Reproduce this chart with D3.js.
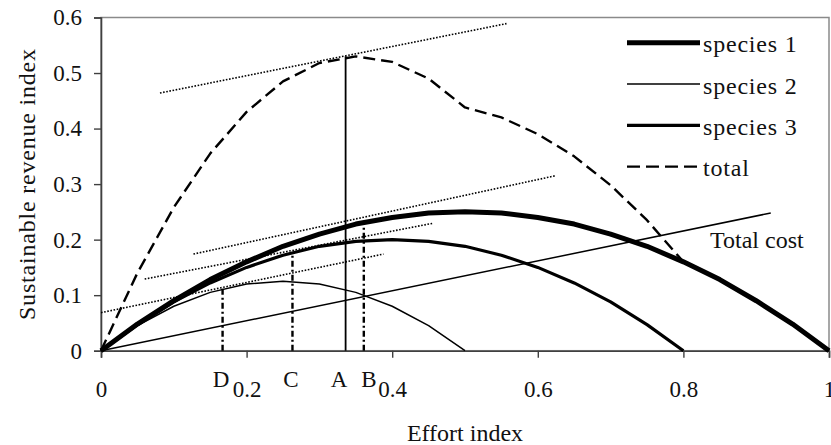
<!DOCTYPE html>
<html>
<head>
<meta charset="utf-8">
<script src="https://cdn.jsdelivr.net/npm/d3@7"></script>
<style>
  body { margin: 0; background: #fff; }
  svg { display: block; }
  svg text { font-family: "Liberation Serif", Tinos, "Times New Roman", Times, "DejaVu Serif", serif; }
</style>
</head>
<body>
<svg></svg>
<script>
// effort levels and sustainable revenue
const effort   = [0, 0.05, 0.1, 0.15, 0.2, 0.25, 0.3, 0.35, 0.4, 0.45, 0.5, 0.55, 0.6, 0.65, 0.7, 0.75, 0.8, 0.85, 0.9, 0.95, 1];
const species1 = [0, 0.048, 0.09, 0.128, 0.16, 0.188, 0.21, 0.228, 0.24, 0.248, 0.25, 0.248, 0.24, 0.228, 0.21, 0.188, 0.16, 0.128, 0.09, 0.048, 0];
const species2 = [0, 0.045, 0.08, 0.105, 0.12, 0.125, 0.12, 0.105, 0.08, 0.045, 0, null, null, null, null, null, null, null, null, null, null];
const species3 = [0, 0.047, 0.088, 0.122, 0.15, 0.172, 0.188, 0.197, 0.2, 0.197, 0.188, 0.172, 0.15, 0.122, 0.088, 0.047, 0, null, null, null, null];
const total    = [0, 0.14, 0.258, 0.355, 0.43, 0.485, 0.518, 0.53, 0.52, 0.49, 0.438, 0.42, 0.39, 0.35, 0.298, 0.235, 0.16, 0.128, 0.09, 0.048, 0];

const costEffort = [0, 0.92];
const costValue  = [0, 0.248];

// dotted tangents: [e1, v1, e2, v2]
const tangents = [
  [0.081, 0.464, 0.557, 0.589],
  [0.127, 0.174, 0.624, 0.315],
  [0.060, 0.129, 0.456, 0.2295],
  [0.0, 0.0685, 0.388, 0.174]
];

// marker lines at optimum efforts
const markerNames  = ['D', 'C', 'A', 'B'];
const markerEffort = [0.167, 0.263, 0.336, 0.361];
const markerTop    = [0.113, 0.172, 0.53, 0.23];
const markerLabelE = [0.165, 0.261, 0.327, 0.368];

const yTicks = [0, 0.1, 0.2, 0.3, 0.4, 0.5, 0.6];
const xTicks = [0, 0.2, 0.4, 0.6, 0.8, 1];

const [svgWidth, svgHeight] = [831, 445];
const margin = {left: 101, right: 2, top: 17.5, bottom: 94.3};
const serif = '"Liberation Serif", Tinos, "Times New Roman", Times, "DejaVu Serif", serif';

const svg = d3.select('svg')
  .attr('width', svgWidth)
  .attr('height', svgHeight);

const x = d3.scaleLinear().domain([0, 1]).range([margin.left, svgWidth - margin.right]);
const y = d3.scaleLinear().domain([0, 0.6]).range([svgHeight - margin.bottom, margin.top]);

// frame
svg.append('rect')
  .attr('x', x(0)).attr('y', y(0.6))
  .attr('width', x(1) - x(0)).attr('height', y(0) - y(0.6))
  .attr('fill', 'none')
  .attr('stroke', '#8a8a8a')
  .attr('stroke-width', 1.5);

const fmt = d => d === 0 ? '0' : d === 1 ? '1' : d3.format('.1f')(d);

const yAxis = svg.append('g')
  .attr('transform', `translate(${x(0)},0)`)
  .call(d3.axisLeft(y).tickValues(yTicks).tickSize(7).tickPadding(12).tickFormat(fmt));
const xAxis = svg.append('g')
  .attr('transform', `translate(0,${y(0)})`)
  .call(d3.axisBottom(x).tickValues(xTicks).tickSize(7).tickPadding(23).tickFormat(fmt));
[yAxis, xAxis].forEach(a => {
  a.attr('font-family', null).attr('font-size', null);
  a.select('.domain').attr('stroke', '#404040').attr('stroke-width', 1.6);
  a.selectAll('.tick line').attr('stroke', '#404040').attr('stroke-width', 1.4);
  a.selectAll('text')
    .style('font-family', serif)
    .style('font-size', '23px')
    .attr('fill', '#111');
});

const pts = vals => effort.map((e, i) => ({e, v: vals[i]}));
const line = d3.line()
  .defined(d => d.v !== null)
  .x(d => x(d.e))
  .y(d => y(d.v));

// total cost
svg.append('path')
  .datum(costEffort.map((e, i) => ({e, v: costValue[i]})))
  .attr('d', line)
  .attr('fill', 'none')
  .attr('stroke', '#000')
  .attr('stroke-width', 1.5);

// tangents
svg.selectAll('line.tangent')
  .data(tangents)
  .join('line')
  .classed('tangent', true)
  .attr('x1', d => x(d[0])).attr('y1', d => y(d[1]))
  .attr('x2', d => x(d[2])).attr('y2', d => y(d[3]))
  .attr('stroke', '#000')
  .attr('stroke-width', 1.6)
  .attr('stroke-dasharray', '1.6,1.6');

// markers
const markers = markerNames.map((n, i) => ({n, e: markerEffort[i], top: markerTop[i], le: markerLabelE[i]}));
svg.selectAll('line.marker')
  .data(markers)
  .join('line')
  .classed('marker', true)
  .attr('x1', d => x(d.e)).attr('x2', d => x(d.e))
  .attr('y1', y(0)).attr('y2', d => y(d.top))
  .attr('stroke', '#000')
  .attr('stroke-width', d => d.n === 'A' ? 1.8 : 2.4)
  .attr('stroke-dasharray', d => d.n === 'A' ? null : '6,3,2,3');
svg.selectAll('text.marker')
  .data(markers)
  .join('text')
  .classed('marker', true)
  .attr('x', d => x(d.le))
  .attr('y', 387)
  .attr('text-anchor', 'middle')
  .style('font-size', '23px')
  .attr('fill', '#111')
  .text(d => d.n);

// curves
const series = [
  {name: 'total', vals: total, width: 2.4, dash: '12,6'},
  {name: 'species 2', vals: species2, width: 1.5, dash: null},
  {name: 'species 3', vals: species3, width: 3.2, dash: null},
  {name: 'species 1', vals: species1, width: 5, dash: null}
];
svg.selectAll('path.series')
  .data(series)
  .join('path')
  .classed('series', true)
  .attr('d', d => line(pts(d.vals)))
  .attr('fill', 'none')
  .attr('stroke', '#000')
  .attr('stroke-width', d => d.width)
  .attr('stroke-dasharray', d => d.dash)
  .attr('stroke-linejoin', 'round');

svg.append('text')
  .attr('x', 710).attr('y', 248)
  .style('font-size', '24px')
  .attr('fill', '#111')
  .text('Total cost');

// legend
const legendOrder = ['species 1', 'species 2', 'species 3', 'total'];
const legend = svg.selectAll('g.legend')
  .data(legendOrder.map(n => series.find(s => s.name === n)))
  .join('g')
  .classed('legend', true)
  .attr('transform', (d, i) => `translate(627, ${42.7 + i * 41.3})`);
legend.append('line')
  .attr('x1', 0).attr('x2', 73)
  .attr('stroke', '#000')
  .attr('stroke-width', d => d.width)
  .attr('stroke-dasharray', d => d.dash ? '13,6' : null);
legend.append('text')
  .attr('x', 76)
  .attr('dy', '0.4em')
  .style('font-size', '24px')
  .style('letter-spacing', '0.8px')
  .attr('fill', '#111')
  .text(d => d.name);

// axis titles
svg.append('text')
  .attr('x', (x(0) + x(1)) / 2).attr('y', 441)
  .attr('text-anchor', 'middle')
  .style('font-size', '24px')
  .attr('fill', '#111')
  .text('Effort index');
svg.append('text')
  .attr('transform', `translate(35, ${(y(0) + y(0.6)) / 2}) rotate(-90)`)
  .attr('text-anchor', 'middle')
  .style('font-size', '24px')
  .style('letter-spacing', '0.8px')
  .attr('fill', '#111')
  .text('Sustainable revenue index');
</script>
</body>
</html>
